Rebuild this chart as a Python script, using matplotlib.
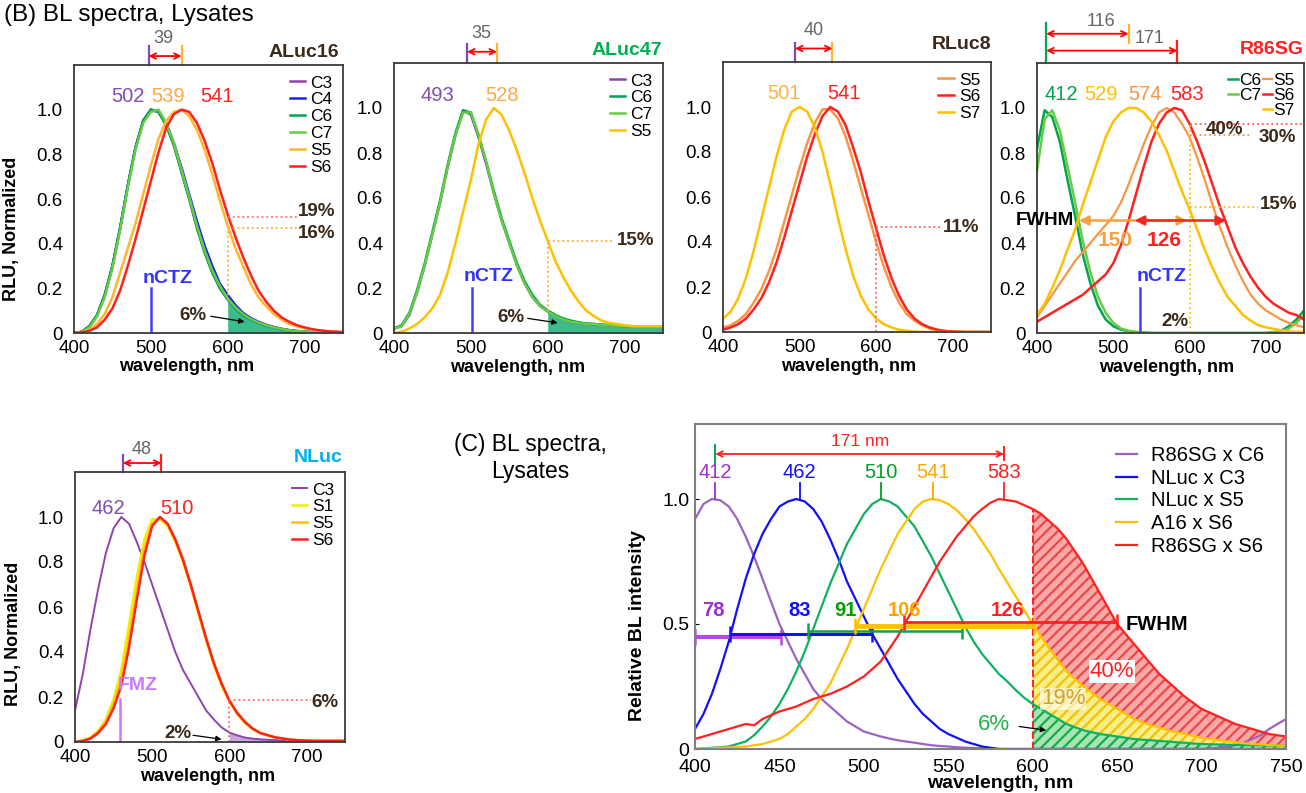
import numpy as np
import matplotlib.pyplot as plt
from matplotlib.lines import Line2D

plt.rcParams['font.family'] = ['Liberation Sans', 'DejaVu Sans']
plt.rcParams['hatch.linewidth'] = 1.6

# wavelength grid for panel B, nm (one reading every 10 nm from 400 to 750)
wl = np.arange(400, 751, 10)
# finer grid for panel C (one reading every 5 nm)
wl_c = np.arange(400, 751, 5)

# ALuc16 lysates
a16_c3 = [0.0, 0.005, 0.03, 0.08, 0.17, 0.30, 0.47, 0.66, 0.83, 0.95, 1.0, 0.99, 0.93, 0.84, 0.72, 0.60, 0.47, 0.36,
          0.27, 0.20, 0.15, 0.11, 0.08, 0.06, 0.045, 0.033, 0.024, 0.017, 0.012, 0.008, 0.006, 0.004, 0.003, 0.002, 0.001, 0.001]
a16_c4 = [0.0, 0.005, 0.03, 0.08, 0.17, 0.30, 0.47, 0.66, 0.83, 0.95, 1.0, 0.99, 0.94, 0.85, 0.74, 0.62, 0.50, 0.39,
          0.30, 0.22, 0.17, 0.125, 0.09, 0.067, 0.05, 0.037, 0.027, 0.019, 0.013, 0.009, 0.007, 0.005, 0.003, 0.002, 0.001, 0.001]
a16_c6 = [0.0, 0.005, 0.03, 0.08, 0.17, 0.30, 0.47, 0.66, 0.83, 0.95, 1.0, 0.99, 0.93, 0.84, 0.72, 0.60, 0.47, 0.36,
          0.27, 0.20, 0.15, 0.11, 0.08, 0.06, 0.045, 0.033, 0.024, 0.017, 0.012, 0.008, 0.006, 0.004, 0.003, 0.002, 0.001, 0.001]
a16_c7 = [0.0, 0.004, 0.025, 0.075, 0.16, 0.29, 0.46, 0.65, 0.82, 0.94, 0.99, 1.0, 0.94, 0.85, 0.73, 0.61, 0.48, 0.37,
          0.28, 0.21, 0.155, 0.115, 0.085, 0.063, 0.047, 0.035, 0.025, 0.018, 0.012, 0.008, 0.006, 0.004, 0.003, 0.002, 0.001, 0.001]
a16_s5 = [0.0, 0.005, 0.015, 0.04, 0.085, 0.16, 0.27, 0.38, 0.49, 0.62, 0.75, 0.87, 0.95, 0.99, 1.0, 0.97, 0.91, 0.82,
          0.71, 0.59, 0.48, 0.38, 0.30, 0.22, 0.16, 0.12, 0.085, 0.06, 0.04, 0.03, 0.02, 0.014, 0.01, 0.007, 0.005, 0.003]
a16_s6 = [0.0, 0.003, 0.01, 0.025, 0.06, 0.11, 0.19, 0.30, 0.42, 0.55, 0.68, 0.81, 0.92, 0.98, 1.0, 0.99, 0.94, 0.86,
          0.76, 0.64, 0.53, 0.43, 0.34, 0.26, 0.19, 0.14, 0.10, 0.07, 0.05, 0.035, 0.025, 0.017, 0.012, 0.008, 0.006, 0.004]

# ALuc47 lysates
a47_c3 = [0.02, 0.03, 0.08, 0.18, 0.30, 0.44, 0.58, 0.74, 0.88, 0.99, 0.97, 0.87, 0.75, 0.62, 0.50, 0.40, 0.30, 0.22,
          0.16, 0.12, 0.095, 0.075, 0.06, 0.05, 0.045, 0.04, 0.04, 0.035, 0.035, 0.03, 0.03, 0.03, 0.03, 0.03, 0.03, 0.03]
a47_c6 = [0.02, 0.035, 0.09, 0.19, 0.31, 0.45, 0.59, 0.75, 0.89, 0.99, 0.98, 0.88, 0.76, 0.63, 0.51, 0.41, 0.31, 0.23,
          0.17, 0.125, 0.10, 0.08, 0.065, 0.055, 0.048, 0.042, 0.04, 0.038, 0.035, 0.033, 0.032, 0.03, 0.03, 0.03, 0.03, 0.03]
a47_c7 = [0.02, 0.03, 0.085, 0.18, 0.30, 0.44, 0.58, 0.74, 0.88, 0.98, 0.98, 0.88, 0.76, 0.62, 0.50, 0.40, 0.30, 0.22,
          0.16, 0.12, 0.095, 0.075, 0.06, 0.05, 0.045, 0.04, 0.04, 0.035, 0.035, 0.03, 0.03, 0.03, 0.03, 0.03, 0.03, 0.03]
a47_s5 = [0.0, 0.005, 0.02, 0.04, 0.07, 0.11, 0.17, 0.27, 0.40, 0.54, 0.68, 0.84, 0.95, 1.0, 0.97, 0.90, 0.81, 0.71,
          0.60, 0.50, 0.41, 0.32, 0.25, 0.19, 0.14, 0.10, 0.075, 0.055, 0.045, 0.04, 0.035, 0.03, 0.03, 0.03, 0.03, 0.03]

# RLuc8 lysates
r8_s5 = [0.02, 0.03, 0.05, 0.08, 0.13, 0.19, 0.27, 0.37, 0.49, 0.61, 0.73, 0.84, 0.93, 0.99, 0.99, 0.95, 0.87, 0.76,
         0.64, 0.52, 0.40, 0.29, 0.20, 0.13, 0.08, 0.05, 0.03, 0.015, 0.008, 0.004, 0.002, 0.001, 0, 0, 0, 0]
r8_s6 = [0.01, 0.02, 0.035, 0.06, 0.10, 0.15, 0.22, 0.31, 0.42, 0.54, 0.66, 0.78, 0.88, 0.96, 1.0, 0.98, 0.92, 0.82,
         0.71, 0.58, 0.46, 0.34, 0.24, 0.16, 0.10, 0.06, 0.035, 0.02, 0.01, 0.005, 0.002, 0.001, 0, 0, 0, 0]
r8_s7 = [0.06, 0.09, 0.15, 0.24, 0.36, 0.50, 0.64, 0.78, 0.90, 0.98, 1.0, 0.98, 0.91, 0.80, 0.66, 0.51, 0.37, 0.25,
         0.16, 0.10, 0.06, 0.035, 0.02, 0.01, 0.005, 0.002, 0, 0, 0, 0, 0, 0, 0, 0, 0, 0]

# R86SG lysates
r86_c6 = [0.82, 0.99, 0.96, 0.85, 0.68, 0.52, 0.35, 0.22, 0.12, 0.06, 0.03, 0.015, 0.008, 0.004, 0.002, 0, 0, 0,
          0, 0, 0, 0, 0, 0, 0, 0, 0, 0, 0, 0, 0, 0.003, 0.01, 0.03, 0.06, 0.10]
r86_c7 = [0.72, 0.95, 0.99, 0.90, 0.74, 0.58, 0.41, 0.27, 0.16, 0.09, 0.045, 0.02, 0.01, 0.005, 0.002, 0, 0, 0,
          0, 0, 0, 0, 0, 0, 0, 0, 0, 0, 0, 0, 0, 0.002, 0.007, 0.02, 0.045, 0.08]
r86_s5 = [0.07, 0.12, 0.17, 0.22, 0.27, 0.32, 0.36, 0.40, 0.44, 0.48, 0.52, 0.58, 0.66, 0.75, 0.84, 0.92, 0.98, 1.0,
          0.98, 0.93, 0.87, 0.78, 0.68, 0.57, 0.47, 0.38, 0.30, 0.23, 0.17, 0.13, 0.10, 0.08, 0.06, 0.045, 0.035, 0.025]
r86_s6 = [0.05, 0.07, 0.09, 0.11, 0.13, 0.15, 0.17, 0.20, 0.23, 0.26, 0.31, 0.39, 0.50, 0.62, 0.74, 0.85, 0.93, 0.98,
          1.0, 0.99, 0.93, 0.85, 0.76, 0.66, 0.56, 0.47, 0.38, 0.31, 0.25, 0.20, 0.16, 0.13, 0.11, 0.09, 0.08, 0.06]
r86_s7 = [0.08, 0.13, 0.20, 0.28, 0.37, 0.46, 0.57, 0.67, 0.77, 0.87, 0.94, 0.98, 1.0, 1.0, 0.98, 0.94, 0.88, 0.81,
          0.72, 0.63, 0.55, 0.46, 0.37, 0.29, 0.22, 0.16, 0.12, 0.08, 0.055, 0.035, 0.025, 0.018, 0.012, 0.008, 0.005, 0.005]

# NLuc lysates
nl_c3 = [0.14, 0.30, 0.50, 0.68, 0.84, 0.95, 1.0, 0.97, 0.89, 0.80, 0.70, 0.60, 0.50, 0.40, 0.32, 0.26, 0.20, 0.14,
         0.10, 0.065, 0.042, 0.03, 0.02, 0.015, 0.012, 0.01, 0.008, 0.007, 0.006, 0.005, 0.005, 0.004, 0.004, 0.004, 0.004, 0.004]
nl_s1 = [0.0, 0.006, 0.02, 0.05, 0.10, 0.19, 0.32, 0.52, 0.73, 0.90, 0.99, 0.99, 0.96, 0.89, 0.80, 0.69, 0.57, 0.45,
         0.34, 0.25, 0.18, 0.125, 0.085, 0.058, 0.04, 0.03, 0.02, 0.015, 0.01, 0.008, 0.006, 0.005, 0.005, 0.005, 0.005, 0.005]
nl_s5 = [0.0, 0.005, 0.017, 0.045, 0.09, 0.17, 0.28, 0.46, 0.67, 0.86, 0.97, 1.0, 0.97, 0.90, 0.81, 0.70, 0.58, 0.46,
         0.35, 0.26, 0.185, 0.13, 0.09, 0.06, 0.04, 0.03, 0.02, 0.015, 0.01, 0.008, 0.006, 0.005, 0.005, 0.005, 0.005, 0.005]
nl_s6 = [0.0, 0.005, 0.015, 0.04, 0.08, 0.15, 0.25, 0.42, 0.63, 0.83, 0.96, 1.0, 0.97, 0.90, 0.81, 0.70, 0.58, 0.46,
         0.35, 0.26, 0.185, 0.13, 0.09, 0.06, 0.04, 0.03, 0.02, 0.015, 0.01, 0.008, 0.006, 0.005, 0.005, 0.005, 0.005, 0.005]

# (C) selected pairs, 5 nm readings
c_r86_c6 = [0.92, 0.98, 1.0, 0.995, 0.97, 0.92, 0.85, 0.77, 0.68, 0.59, 0.50, 0.43, 0.36, 0.30, 0.24, 0.20, 0.17, 0.14,
            0.11, 0.09, 0.07, 0.06, 0.05, 0.042, 0.035, 0.03, 0.025, 0.02, 0.015, 0.012, 0.01, 0.007, 0.005, 0.004, 0.003, 0.002,
            0, 0, 0, 0, 0, 0, 0, 0, 0, 0, 0, 0, 0, 0, 0, 0, 0, 0, 0, 0, 0, 0, 0, 0, 0,
            0.002, 0.005, 0.009, 0.015, 0.025, 0.04, 0.055, 0.08, 0.10, 0.12]
c_nl_c3 = [0.08, 0.14, 0.22, 0.32, 0.43, 0.56, 0.68, 0.78, 0.86, 0.92, 0.97, 0.99, 1.0, 0.99, 0.96, 0.91, 0.84, 0.76,
           0.67, 0.60, 0.53, 0.46, 0.40, 0.34, 0.28, 0.23, 0.18, 0.14, 0.11, 0.08, 0.06, 0.045, 0.03, 0.02, 0.01, 0.005,
           0, 0, 0, 0, 0, 0, 0, 0, 0, 0, 0, 0, 0, 0, 0, 0, 0, 0, 0, 0, 0, 0, 0, 0, 0,
           0, 0, 0, 0, 0, 0, 0, 0, 0, 0]
c_nl_s5 = [0.0, 0.002, 0.005, 0.007, 0.01, 0.02, 0.03, 0.055, 0.09, 0.13, 0.18, 0.24, 0.31, 0.39, 0.48, 0.57, 0.66, 0.74,
           0.82, 0.88, 0.94, 0.98, 1.0, 0.99, 0.97, 0.93, 0.89, 0.83, 0.77, 0.70, 0.63, 0.56, 0.49, 0.43, 0.38, 0.34,
           0.30, 0.27, 0.235, 0.205, 0.18, 0.16, 0.14, 0.12, 0.10, 0.087, 0.075, 0.067, 0.06, 0.055, 0.05, 0.045, 0.04,
           0.037, 0.035, 0.032, 0.03, 0.027, 0.025, 0.022, 0.02, 0.019, 0.018, 0.017, 0.016, 0.0155, 0.015, 0.0145,
           0.014, 0.0135, 0.013]
c_a16_s6 = [0.0, 0.002, 0.003, 0.005, 0.006, 0.008, 0.01, 0.015, 0.02, 0.03, 0.04, 0.06, 0.09, 0.12, 0.16, 0.21, 0.26, 0.33,
            0.40, 0.48, 0.56, 0.64, 0.72, 0.79, 0.86, 0.91, 0.96, 0.99, 1.0, 0.995, 0.98, 0.955, 0.92, 0.88, 0.83, 0.78,
            0.72, 0.665, 0.61, 0.555, 0.50, 0.45, 0.40, 0.355, 0.31, 0.28, 0.25, 0.225, 0.20, 0.18, 0.16, 0.14, 0.12,
            0.107, 0.095, 0.085, 0.075, 0.067, 0.06, 0.052, 0.045, 0.04, 0.035, 0.031, 0.027, 0.023, 0.02, 0.018,
            0.016, 0.014, 0.013]
c_r86_s6 = [0.04, 0.05, 0.06, 0.07, 0.08, 0.09, 0.10, 0.095, 0.12, 0.135, 0.15, 0.16, 0.17, 0.185, 0.20, 0.21, 0.22, 0.235,
            0.25, 0.27, 0.29, 0.32, 0.35, 0.40, 0.45, 0.51, 0.57, 0.63, 0.69, 0.75, 0.80, 0.85, 0.89, 0.93, 0.96, 0.985,
            1.0, 0.995, 0.99, 0.975, 0.96, 0.94, 0.91, 0.88, 0.84, 0.79, 0.74, 0.68, 0.62, 0.56, 0.50, 0.46, 0.42,
            0.38, 0.34, 0.30, 0.27, 0.24, 0.21, 0.185, 0.16, 0.145, 0.13, 0.115, 0.10, 0.09, 0.08, 0.07, 0.06, 0.055,
            0.05]

W, H = 1306, 793
fig = plt.figure(figsize=(W / 100, H / 100), dpi=100)

TXT = '#3b2a1a'
PURPLE = '#8e44ad'
BLUE = '#2020ee'
GREEN = '#00a651'
LGREEN = '#66cc44'
GOLD = '#ffb52e'
ORANGE = '#f79646'
AMBER = '#ffc000'
RED = '#ff2020'


def add_ax(left, top, right, bottom):
    return fig.add_axes([left / W, 1 - bottom / H, (right - left) / W, (bottom - top) / H])


def style_b(ax, xlab_x, ylabel=False):
    ax.set_xlim(400, 750)
    ax.set_ylim(0, 1.2)
    ax.set_xticks([400, 500, 600, 700])
    ax.set_yticks([0, 0.2, 0.4, 0.6, 0.8, 1.0])
    ax.set_yticklabels(['0', '0.2', '0.4', '0.6', '0.8', '1.0'])
    ax.tick_params(axis='x', length=0, labelsize=13.5, pad=5)
    ax.tick_params(axis='y', length=0, labelsize=13.5, pad=8)
    for s in ax.spines.values():
        s.set_color('#3a3a3a')
        s.set_linewidth(1.3)
    ax.set_xlabel('wavelength, nm', fontsize=13, fontweight='bold')
    ax.xaxis.set_label_coords(xlab_x, -0.095)
    ax.xaxis.label.set_va('top')
    if ylabel:
        ax.set_ylabel('RLU, Normalized', fontsize=13, fontweight='bold')
        ax.yaxis.set_label_coords(-0.2, 0.39)


def bracket(ax, x1, x2, c1, c2, y, text, tx, ty, top=1.285):
    ax.plot([x1, x1], [1.2, top], color=c1, lw=1.6, clip_on=False)
    ax.plot([x2, x2], [1.2, top], color=c2, lw=1.6, clip_on=False)
    ax.annotate('', xy=(x2, y), xytext=(x1, y), annotation_clip=False,
                arrowprops=dict(arrowstyle='<->', color='red', lw=1.3, shrinkA=0, shrinkB=0))
    ax.text(tx, ty, text, color='#666666', fontsize=13, ha='center', va='center')


def title_b(ax, text, color, x, y):
    ax.text(x, y, text, color=color, fontsize=14, fontweight='bold', ha='right', va='center',
            transform=ax.transAxes)


def legend_b(ax, **kw):
    ax.legend(loc='upper right', frameon=False, fontsize=12.5, handlelength=0.9, handletextpad=0.3,
              labelspacing=0.1, borderaxespad=0.6, borderpad=0, **kw)


def dotted(ax, xs, ys, color):
    ax.plot(xs, ys, ls=':', color=color, lw=1.3, clip_on=False)


def pct(ax, x, y, text, ha='left'):
    ax.text(x, y, text, color=TXT, fontsize=13.5, fontweight='bold', ha=ha, va='center')


def note_arrow(ax, x1, y1, x2, y2):
    ax.annotate('', xy=(x2, y2), xytext=(x1, y1),
                arrowprops=dict(arrowstyle='-|>', color='black', lw=0.9, mutation_scale=8, shrinkA=0, shrinkB=0))


fig.text(4 / W, 1 - 15 / H, '(B) BL spectra, Lysates', fontsize=17.5, va='center', ha='left')

# ---------------- ALuc16 ----------------
ax1 = add_ax(74, 65, 343, 333)
ax1.fill_between(wl, a16_c6, where=wl >= 600, color='#3dbb8a', lw=0)
ax1.plot(wl, a16_c3, color=PURPLE, lw=1.8, label='C3')
ax1.plot(wl, a16_c4, color=BLUE, lw=1.8, label='C4')
ax1.plot(wl, a16_c6, color=GREEN, lw=1.8, label='C6')
ax1.plot(wl, a16_c7, color=LGREEN, lw=1.8, label='C7')
ax1.plot(wl, a16_s5, color=GOLD, lw=1.8, label='S5')
ax1.plot(wl, a16_s6, color=RED, lw=1.8, label='S6')
style_b(ax1, 0.42, ylabel=True)
legend_b(ax1)
title_b(ax1, 'ALuc16', TXT, 0.985, 1.045)
bracket(ax1, 497, 540, PURPLE, GOLD, 1.24, '39', 516, 1.32)
ax1.text(470, 1.06, '502', color='#7f4fb0', fontsize=14.5, ha='center', va='center')
ax1.text(523, 1.06, '539', color='#ffa84a', fontsize=14.5, ha='center', va='center')
ax1.text(586, 1.06, '541', color=RED, fontsize=14.5, ha='center', va='center')
ax1.plot([500, 500], [0, 0.2], color='#4040ff', lw=1.8)
ax1.text(489, 0.245, 'nCTZ', color='#3333ff', fontsize=14, fontweight='bold', ha='left', va='center')
dotted(ax1, [600, 692], [0.52, 0.52], '#ff6a6a')
dotted(ax1, [600, 692], [0.47, 0.47], '#ffaa33')
dotted(ax1, [600, 600], [0.15, 0.47], '#ffaa33')
pct(ax1, 691, 0.545, '19%')
pct(ax1, 691, 0.445, '16%')
pct(ax1, 555, 0.08, '6%', ha='center')
note_arrow(ax1, 578, 0.075, 622, 0.05)

# ---------------- ALuc47 ----------------
ax2 = add_ax(394, 63, 663, 333)
ax2.fill_between(wl, a47_c6, where=wl >= 600, color='#3dbb8a', lw=0)
ax2.plot(wl, a47_c3, color=PURPLE, lw=1.8, label='C3')
ax2.plot(wl, a47_c6, color=GREEN, lw=1.8, label='C6')
ax2.plot(wl, a47_c7, color=LGREEN, lw=1.8, label='C7')
ax2.plot(wl, a47_s5, color=AMBER, lw=1.8, label='S5')
style_b(ax2, 0.46)
legend_b(ax2)
title_b(ax2, 'ALuc47', '#00b050', 0.996, 1.048)
bracket(ax2, 495, 534, PURPLE, GOLD, 1.25, '35', 514, 1.33)
ax2.text(457, 1.055, '493', color='#7f4fb0', fontsize=14.5, ha='center', va='center')
ax2.text(541, 1.055, '528', color='#ffa84a', fontsize=14.5, ha='center', va='center')
ax2.plot([501, 501], [0, 0.2], color='#4040ff', lw=1.8)
ax2.text(491, 0.25, 'nCTZ', color='#3333ff', fontsize=14, fontweight='bold', ha='left', va='center')
dotted(ax2, [600, 688], [0.41, 0.41], '#ffaa33')
dotted(ax2, [600, 600], [0.1, 0.41], '#ffaa33')
pct(ax2, 690, 0.41, '15%')
pct(ax2, 552, 0.07, '6%', ha='center')
note_arrow(ax2, 574, 0.065, 613, 0.045)

# ---------------- RLuc8 ----------------
ax3 = add_ax(723, 62, 991, 332)
ax3.plot(wl, r8_s5, color=ORANGE, lw=1.8, label='S5')
ax3.plot(wl, r8_s6, color=RED, lw=1.8, label='S6')
ax3.plot(wl, r8_s7, color=AMBER, lw=1.8, label='S7')
style_b(ax3, 0.47)
legend_b(ax3)
title_b(ax3, 'RLuc8', TXT, 1.0, 1.063)
bracket(ax3, 494, 543, PURPLE, GOLD, 1.26, '40', 519, 1.34)
ax3.text(480, 1.06, '501', color='#ffb347', fontsize=14.5, ha='center', va='center')
ax3.text(558, 1.06, '541', color=RED, fontsize=14.5, ha='center', va='center')
dotted(ax3, [600, 686], [0.465, 0.465], '#ff5a5a')
dotted(ax3, [600, 600], [0, 0.465], '#ff5a5a')
pct(ax3, 687, 0.465, '11%')

# ---------------- R86SG ----------------
ax4 = add_ax(1037, 63, 1304, 333)
h_c6, = ax4.plot(wl, r86_c6, color=GREEN, lw=1.8, label='C6')
h_c7, = ax4.plot(wl, r86_c7, color=LGREEN, lw=1.8, label='C7')
h_s5, = ax4.plot(wl, r86_s5, color=ORANGE, lw=1.6, label='S5')
h_s6, = ax4.plot(wl, r86_s6, color=RED, lw=1.8, label='S6')
h_s7, = ax4.plot(wl, r86_s7, color=AMBER, lw=1.8, label='S7')
style_b(ax4, 0.485)
blank = Line2D([], [], color='none')
ax4.legend([h_c6, h_c7, blank, h_s5, h_s6, h_s7], ['C6', 'C7', '', 'S5', 'S6', 'S7'], ncol=2,
           loc='upper right', frameon=False, fontsize=12.5, handlelength=0.55, handletextpad=0.05,
           labelspacing=0.0, borderaxespad=0.55, borderpad=0, columnspacing=0.1)
title_b(ax4, 'R86SG', RED, 1.0, 1.05)
# two brackets above the panel
ax4.plot([412, 412], [1.2, 1.38], color=GREEN, lw=1.6, clip_on=False)
ax4.plot([520, 520], [1.29, 1.37], color=GOLD, lw=1.6, clip_on=False)
ax4.plot([584, 584], [1.2, 1.3], color=RED, lw=1.6, clip_on=False)
ax4.annotate('', xy=(520, 1.33), xytext=(412, 1.33), annotation_clip=False,
             arrowprops=dict(arrowstyle='<->', color='red', lw=1.3, shrinkA=0, shrinkB=0))
ax4.annotate('', xy=(584, 1.255), xytext=(412, 1.255), annotation_clip=False,
             arrowprops=dict(arrowstyle='<->', color='red', lw=1.3, shrinkA=0, shrinkB=0))
ax4.text(484, 1.385, '116', color='#666666', fontsize=13, ha='center', va='center')
ax4.text(548, 1.31, '171', color='#666666', fontsize=13, ha='center', va='center')
ax4.text(432, 1.06, '412', color=GREEN, fontsize=14.5, ha='center', va='center')
ax4.text(484, 1.06, '529', color=AMBER, fontsize=14.5, ha='center', va='center')
ax4.text(542, 1.06, '574', color=ORANGE, fontsize=14.5, ha='center', va='center')
ax4.text(597, 1.06, '583', color=RED, fontsize=14.5, ha='center', va='center')
dotted(ax4, [600, 750], [0.93, 0.93], '#ff5a5a')
dotted(ax4, [600, 682], [0.88, 0.88], ORANGE)
dotted(ax4, [600, 690], [0.56, 0.56], AMBER)
dotted(ax4, [600, 600], [0, 0.93], AMBER)
pct(ax4, 646, 0.905, '40%', ha='center')
pct(ax4, 715, 0.87, '30%', ha='center')
pct(ax4, 717, 0.57, '15%', ha='center')
pct(ax4, 581, 0.05, '2%', ha='center')
ax4.annotate('', xy=(455, 0.5), xytext=(597, 0.5),
             arrowprops=dict(arrowstyle='<|-|>', color='#f7a040', lw=1.8, mutation_scale=14, shrinkA=0, shrinkB=0))
ax4.annotate('', xy=(528, 0.5), xytext=(648, 0.5),
             arrowprops=dict(arrowstyle='<|-|>', color=RED, lw=1.8, mutation_scale=14, shrinkA=0, shrinkB=0))
ax4.text(410, 0.5, 'FWHM', color='black', fontsize=13.5, fontweight='bold', ha='center', va='center')
ax4.text(503, 0.41, '150', color='#f7a040', fontsize=15, fontweight='bold', ha='center', va='center')
ax4.text(567, 0.41, '126', color=RED, fontsize=15, fontweight='bold', ha='center', va='center')
ax4.plot([535, 535], [0, 0.2], color='#4040ff', lw=1.8)
ax4.text(531, 0.25, 'nCTZ', color='#3333ff', fontsize=14, fontweight='bold', ha='left', va='center')

# ---------------- NLuc ----------------
ax5 = add_ax(75, 472, 345, 742)
ax5.fill_between(wl, nl_c3, where=wl >= 600, color='#c9a6dd', lw=0)
ax5.plot(wl, nl_c3, color=PURPLE, lw=1.4, label='C3')
ax5.plot(wl, nl_s1, color='#eeee00', lw=1.8, label='S1')
ax5.plot(wl, nl_s5, color=AMBER, lw=1.8, label='S5')
ax5.plot(wl, nl_s6, color=RED, lw=1.8, label='S6')
style_b(ax5, 0.49, ylabel=True)
ax5.yaxis.set_label_coords(-0.196, 0.40)
legend_b(ax5)
title_b(ax5, 'NLuc', '#00b0f0', 0.99, 1.055)
bracket(ax5, 462, 512, PURPLE, RED, 1.24, '48', 486, 1.30, top=1.275)
ax5.text(443, 1.04, '462', color='#7f4fb0', fontsize=14.5, ha='center', va='center')
ax5.text(532, 1.04, '510', color=RED, fontsize=14.5, ha='center', va='center')
ax5.plot([458, 458], [0, 0.19], color='#cc77ff', lw=1.8)
ax5.text(456, 0.25, 'FMZ', color='#cc77ff', fontsize=14, fontweight='bold', ha='left', va='center')
dotted(ax5, [600, 706], [0.185, 0.185], '#ff6a6a')
dotted(ax5, [600, 600], [0, 0.185], '#ff6a6a')
pct(ax5, 707, 0.175, '6%')
pct(ax5, 534, 0.04, '2%', ha='center')
note_arrow(ax5, 553, 0.03, 590, 0.012)

# ---------------- (C) ----------------
fig.text(530 / W, 1 - 458 / H, '(C) BL spectra,\nLysates', fontsize=16.5, ha='center', va='center',
         multialignment='center', linespacing=1.25)

axc = add_ax(695, 424, 1286, 749)
m = wl_c >= 600
g = np.array(c_nl_s5)[m]
y = np.array(c_a16_s6)[m]
r = np.array(c_r86_s6)[m]
axc.fill_between(wl_c[m], 0, g, facecolor='#a8e2b6', edgecolor='#10b040', hatch='///', lw=0)
axc.fill_between(wl_c[m], g, y, facecolor='#f7ee8a', edgecolor='#f2c200', hatch='///', lw=0)
axc.fill_between(wl_c[m], y, r, facecolor='#f8a8a8', edgecolor='#ec4848', hatch='///', lw=0)
axc.plot([600, 600], [0, 0.96], ls='--', color=RED, lw=1.4)

c_cols = ['#9b63c4', '#1010ff', '#10b060', AMBER, RED]
c_names = ['R86SG x C6', 'NLuc x C3', 'NLuc x S5', 'A16 x S6', 'R86SG x S6']
c_series = [c_r86_c6, c_nl_c3, c_nl_s5, c_a16_s6, c_r86_s6]
for vals, col, name in zip(c_series, c_cols, c_names):
    axc.plot(wl_c, vals, color=col, lw=1.6, label=name)

c_peaks = [412, 462, 510, 541, 583]
c_peak_cols = ['#9933cc', '#1010ff', '#00a020', '#ffa500', RED]
for p, col in zip(c_peaks, c_peak_cols):
    axc.plot([p, p], [1.0, 1.065], color=col, lw=1.3)
    axc.text(p, 1.105, str(p), color=col, fontsize=14.5, ha='center', va='center')
axc.plot([412, 412], [1.145, 1.215], color=GREEN, lw=1.4)
axc.plot([583, 583], [1.155, 1.21], color=RED, lw=1.4)
axc.annotate('', xy=(583, 1.18), xytext=(412, 1.18),
             arrowprops=dict(arrowstyle='<->', color=RED, lw=1.3, shrinkA=0, shrinkB=0))
axc.text(498, 1.23, '171 nm', color=RED, fontsize=12.5, ha='center', va='center')

# FWHM bars
fw_left = [400, 421, 467, 495, 524]
fw_right = [451, 505, 558, 601, 650]
fw_y = [0.447, 0.46, 0.472, 0.492, 0.507]
fw_cols = ['#b44be1', '#1010ff', '#10a050', AMBER, RED]
fw_lw = [3.0, 2.2, 1.8, 3.5, 2.0]
fw_vals = [78, 83, 91, 106, 126]
fw_lab_x = [411, 462, 489, 524, 585]
fw_lab_cols = ['#9933cc', '#1010ff', '#00a000', '#ffa500', RED]
for x1, x2, yy, col, lw in zip(fw_left, fw_right, fw_y, fw_cols, fw_lw):
    axc.plot([x1, x2], [yy, yy], color=col, lw=lw, solid_capstyle='butt')
    axc.plot([x1, x2], [yy, yy], ls='none', marker='|', ms=11, mew=1.8, color=col, clip_on=False)
for v, lx, col in zip(fw_vals, fw_lab_x, fw_lab_cols):
    axc.text(lx, 0.556, str(v), color=col, fontsize=14.5, fontweight='bold', ha='center', va='center')
axc.text(655, 0.5, 'FWHM', color='black', fontsize=14.5, fontweight='bold', ha='left', va='center')

axc.text(647, 0.31, '40%', color=RED, fontsize=16, ha='center', va='center',
         bbox=dict(facecolor='white', edgecolor='none', pad=0.5))
axc.text(618, 0.2, '19%', color='#d4a02a', fontsize=16, ha='center', va='center',
         bbox=dict(facecolor='white', edgecolor='none', alpha=0.6, pad=0.5))
axc.text(577, 0.096, '6%', color='#22b14c', fontsize=16, ha='center', va='center')
note_arrow(axc, 592, 0.09, 608, 0.075)

axc.set_xlim(400, 750)
axc.set_ylim(0, 1.3)
axc.set_xticks(np.arange(400, 751, 50))
axc.set_yticks([0, 0.5, 1.0])
axc.set_yticklabels(['0', '0.5', '1.0'])
axc.tick_params(axis='x', length=0, labelsize=14, pad=7)
axc.tick_params(axis='y', direction='in', length=3, labelsize=14, pad=4)
for s in axc.spines.values():
    s.set_color('#808080')
    s.set_linewidth(1.5)
axc.set_xlabel('wavelength, nm', fontsize=14, fontweight='bold')
axc.xaxis.set_label_coords(0.516, -0.08)
axc.xaxis.label.set_va('top')
axc.set_ylabel('Relative BL intensity', fontsize=14, fontweight='bold')
axc.yaxis.set_label_coords(-0.083, 0.38)
axc.legend(loc='upper right', frameon=False, fontsize=14.5, handlelength=1.0, handletextpad=0.7,
           labelspacing=0.18, borderaxespad=0.9, borderpad=0.2)

fig.savefig('out.png', dpi=100)
